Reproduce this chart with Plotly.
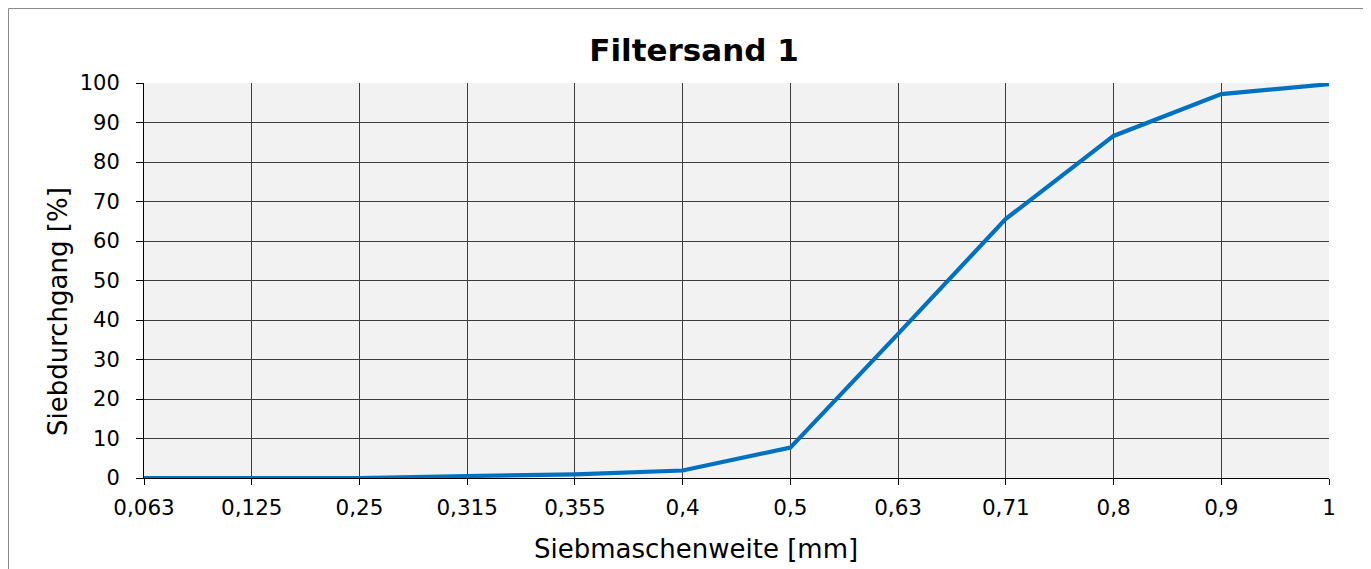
import plotly.graph_objects as go

sieve_sizes = ["0,063", "0,125", "0,25", "0,315", "0,355", "0,4", "0,5", "0,63", "0,71", "0,8", "0,9", "1"]
passing = [0, 0, 0, 0.5, 0.9, 1.9, 7.7, 36.5, 65.6, 86.6, 97.2, 99.7]
y_ticks = [0, 10, 20, 30, 40, 50, 60, 70, 80, 90, 100]

# the page body has an 8px margin, so the figure is laid out 8px smaller
OFF = 8
W, H = 1371 - OFF, 569 - OFF
L, R, T, B = 144 - OFF, 1329 - OFF, 83 - OFF, 478 - OFF
pw, ph = R - L, B - T

font = "DejaVu Sans, Verdana, sans-serif"

fig = go.Figure()
fig.add_trace(go.Scatter(
    x=sieve_sizes, y=passing, mode="lines",
    line=dict(color="#0070c0", width=4.2),
    showlegend=False, hoverinfo="x+y",
))

fig.update_layout(
    width=W, height=H,
    margin=dict(l=L, r=W - R, t=T, b=H - B, pad=0),
    paper_bgcolor="white",
    plot_bgcolor="#f2f2f2",
    font=dict(family=font, color="black", size=21),
    title=dict(text="<b>Filtersand 1</b>", x=(694 - OFF) / W, xanchor="center",
               y=1 - (50 - OFF) / H, yanchor="middle",
               font=dict(family=font, size=31, color="black")),
    xaxis=dict(
        type="category", range=[0, len(sieve_sizes) - 1],
        showgrid=True, gridcolor="#3c3c3c", gridwidth=1,
        showline=True, linecolor="black", linewidth=1,
        ticks="outside", ticklen=6, tickcolor="black", tickwidth=1,
        tickfont=dict(size=21.5), automargin=False,
        ticklabelstandoff=4,
    ),
    yaxis=dict(
        range=[0, 100], tickvals=y_ticks,
        showgrid=True, gridcolor="#3c3c3c", gridwidth=1,
        showline=True, linecolor="black", linewidth=1,
        ticks="outside", ticklen=7, tickcolor="black", tickwidth=1,
        tickfont=dict(size=21), zeroline=False, automargin=False,
        ticklabelstandoff=12,
    ),
)

# axis titles
fig.add_annotation(text="Siebmaschenweite [mm]", xref="paper", yref="paper",
                   x=(696 - 144) / pw, y=(478 - 549) / ph,
                   xanchor="center", yanchor="middle", showarrow=False,
                   font=dict(family=font, size=26, color="black"))
fig.add_annotation(text="Siebdurchgang [%]", xref="paper", yref="paper",
                   x=(58 - 144) / pw, y=(478 - 312) / ph, textangle=-90,
                   xanchor="center", yanchor="middle", showarrow=False,
                   font=dict(family=font, size=26, color="black"))

# outer chart border
fig.add_shape(type="rect", xref="paper", yref="paper",
              x0=(0.5 - L) / pw, x1=(1368 - OFF - L) / pw,
              y0=(B - 600) / ph, y1=(B - 0.5) / ph,
              line=dict(color="#8a8a8a", width=1), fillcolor="rgba(0,0,0,0)",
              layer="below")

fig.write_html("out.html")
